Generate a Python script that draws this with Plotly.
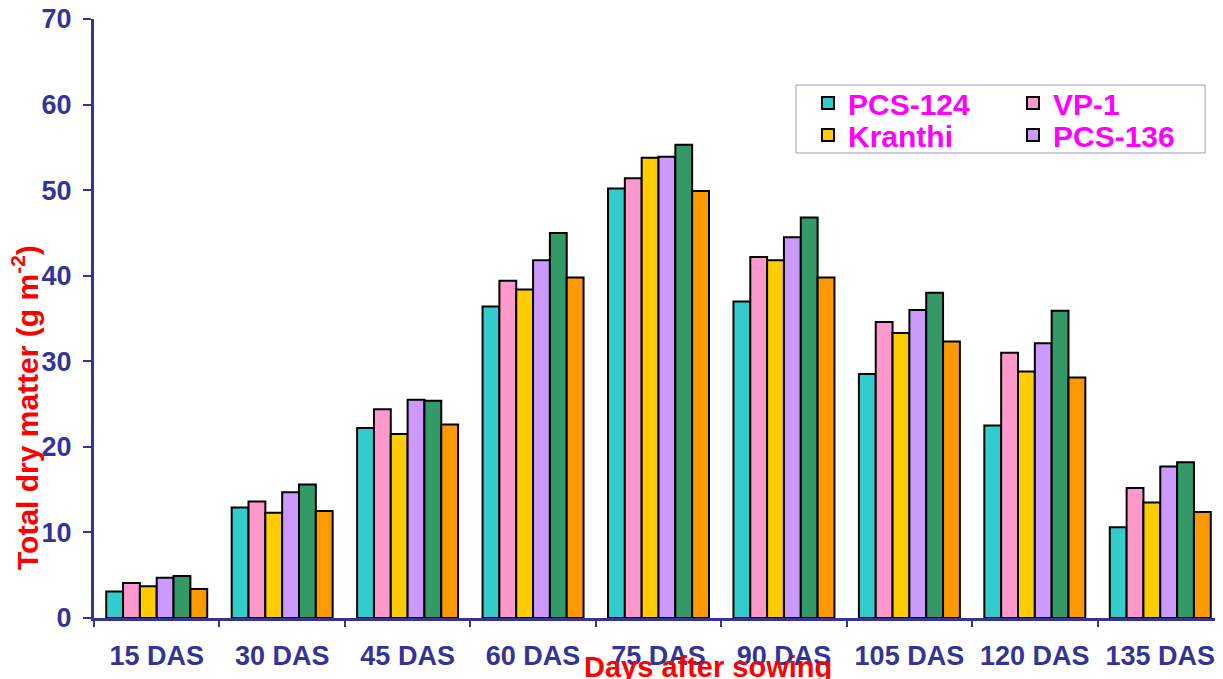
import plotly.graph_objects as go

categories = ["15 DAS", "30 DAS", "45 DAS", "60 DAS", "75 DAS", "90 DAS", "105 DAS", "120 DAS", "135 DAS"]
pcs124 = [3.1, 12.9, 22.2, 36.4, 50.2, 37.0, 28.5, 22.5, 10.6]
vp1 = [4.1, 13.6, 24.4, 39.4, 51.4, 42.2, 34.6, 31.0, 15.2]
kranthi = [3.7, 12.3, 21.5, 38.4, 53.8, 41.8, 33.3, 28.8, 13.5]
pcs136 = [4.7, 14.7, 25.5, 41.8, 53.9, 44.5, 36.0, 32.1, 17.7]
series5 = [4.9, 15.6, 25.4, 45.0, 55.3, 46.8, 38.0, 35.9, 18.2]
series6 = [3.4, 12.5, 22.6, 39.8, 49.9, 39.8, 32.3, 28.1, 12.4]

series = [
    ("PCS-124", pcs124, "#33CCCC", "legend"),
    ("VP-1", vp1, "#FF99CC", "legend"),
    ("Kranthi", kranthi, "#FFCC00", "legend2"),
    ("PCS-136", pcs136, "#CC99FF", "legend2"),
    ("Series 5", series5, "#339966", None),
    ("Series 6", series6, "#FF9900", None),
]

axis_color = "#333399"
font_family = "Liberation Sans, Arial, sans-serif"

fig = go.Figure()
for name, vals, color, leg in series:
    kw = dict(legend=leg) if leg else dict(showlegend=False)
    fig.add_trace(go.Bar(
        x=categories, y=vals, name=name,
        marker=dict(color=color, line=dict(color="black", width=2)),
        **kw,
    ))

legend_common = dict(
    orientation="h", xanchor="left", yanchor="middle",
    bgcolor="rgba(0,0,0,0)", borderwidth=0,
    font=dict(color="#FF00FF", size=30, family=font_family, weight="bold"),
    entrywidth=160, entrywidthmode="pixels", traceorder="normal",
)

fig.update_layout(
    width=1215, height=671,
    margin=dict(l=86, r=0, t=11, b=61, autoexpand=False),
    paper_bgcolor="white", plot_bgcolor="white",
    barmode="group", bargap=0.195, bargroupgap=0,
    font=dict(family=font_family),
    legend=dict(x=0.6324, y=0.8598, **legend_common),
    legend2=dict(x=0.6324, y=0.8063, **legend_common),
    shapes=[
        dict(type="rect", xref="paper", yref="paper", x0=0.6218, x1=0.9841, y0=0.7763, y1=0.8898,
             line=dict(color="#9999CC", width=1), fillcolor="white", layer="above"),
    ],
    xaxis=dict(
        showline=True, linecolor=axis_color, linewidth=3, automargin=False,
        ticks="outside", tickson="boundaries", ticklen=6, tickwidth=2, tickcolor=axis_color,
        tickfont=dict(color=axis_color, size=27, weight="bold"), ticklabeloverflow="allow",
        ticklabelstandoff=12, range=[-0.5, 8.5], showgrid=False,
    ),
    yaxis=dict(
        range=[0, 70], dtick=10, showline=True, linecolor=axis_color, linewidth=3, automargin=False,
        ticks="outside", ticklen=8, tickwidth=2, tickcolor=axis_color,
        tickfont=dict(color=axis_color, size=27, weight="bold"), ticklabeloverflow="allow",
        ticklabelstandoff=6, showgrid=False, zeroline=False,
    ),
    annotations=[
        dict(text="Days after sowing", xref="paper", yref="paper", x=0.5438, y=-0.0818,
             xanchor="center", yanchor="middle", showarrow=False,
             font=dict(color="#FF0000", size=29, weight="bold")),
        dict(text="Total dry matter (g m<sup>-2</sup>)", xref="paper", yref="paper", x=-0.0611, y=0.3506,
             xanchor="center", yanchor="middle", showarrow=False, textangle=-90,
             font=dict(color="#FF0000", size=30, weight="bold")),
    ],
)

fig.write_html("out.html")
